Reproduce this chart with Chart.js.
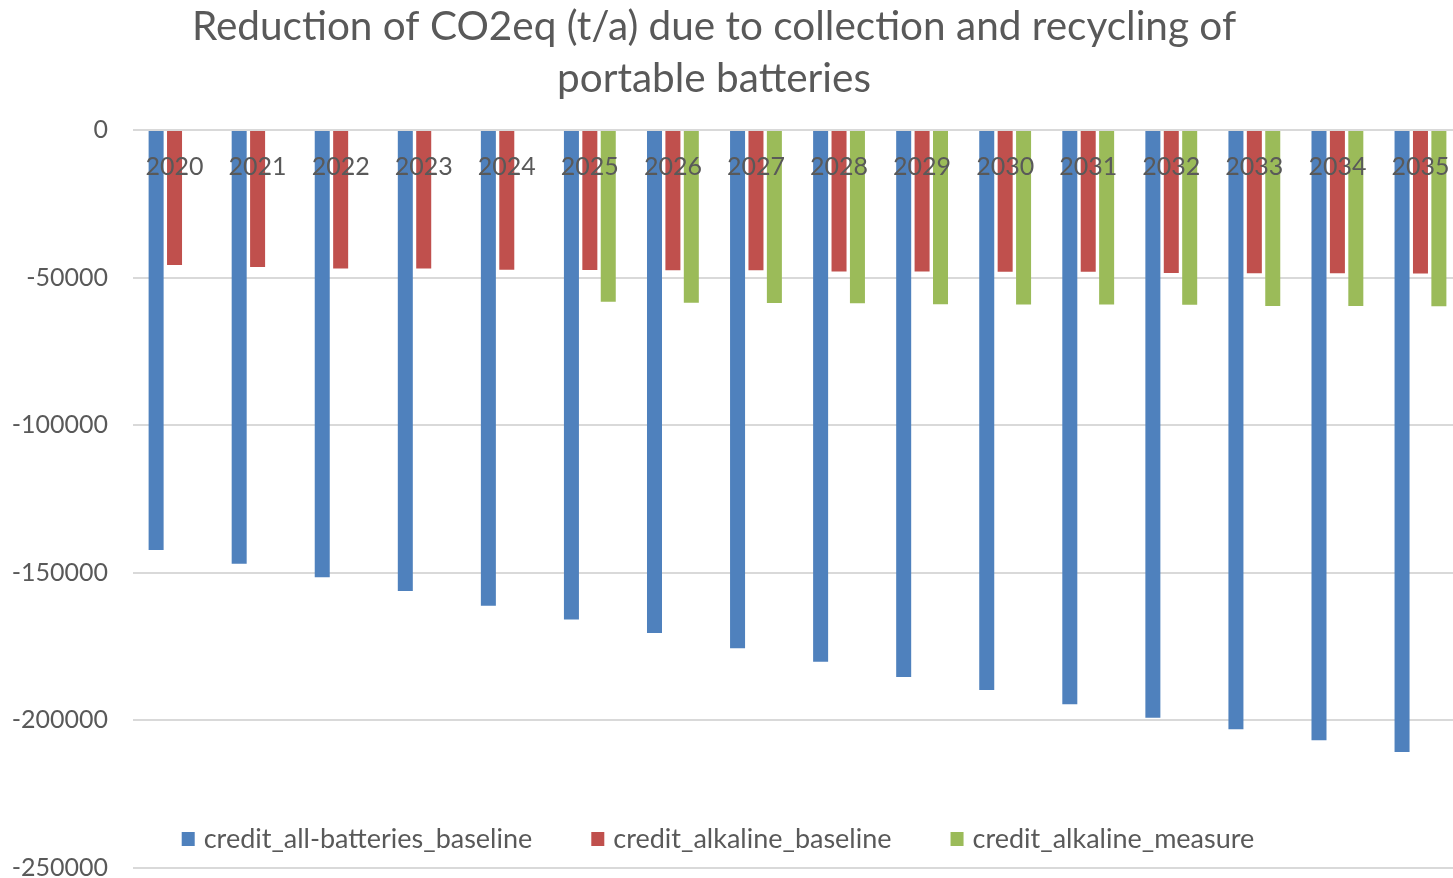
<!DOCTYPE html>
<html>
<head>
<meta charset="utf-8">
<title>Reduction of CO2eq (t/a)</title>
<script src="https://cdn.jsdelivr.net/npm/chart.js@4/dist/chart.umd.min.js"></script>
<style>
  html, body { margin: 0; padding: 0; background: #ffffff; overflow: hidden; }
  #wrap { position: relative; width: 1470px; height: 878px; }
</style>
</head>
<body>
<div id="wrap"><canvas id="co2" width="1470" height="878"></canvas></div>
<script>
// Years on the category axis
const years = ['2020', '2021', '2022', '2023', '2024', '2025', '2026', '2027',
               '2028', '2029', '2030', '2031', '2032', '2033', '2034', '2035'];

// CO2eq credits in t/a (negative = reduction)
const creditAllBatteriesBaseline = [-142300, -146900, -151500, -156200, -161200, -165800, -170400, -175600,
                                    -180100, -185300, -189700, -194500, -199100, -203000, -206700, -210700];
const creditAlkalineBaseline = [-45700, -46400, -46900, -46900, -47300, -47400, -47500, -47500,
                                -47900, -47900, -48000, -48000, -48400, -48500, -48500, -48600];
const creditAlkalineMeasure = [null, null, null, null, null, -58200, -58500, -58600,
                               -58700, -59000, -59100, -59100, -59200, -59600, -59600, -59700];

// Value axis ticks
const yTickValues = [0, -50000, -100000, -150000, -200000, -250000];

const titleLines = ['Reduction of CO2eq (t/a) due to collection and recycling of', 'portable batteries'];
const seriesNames = ['credit_all-batteries_baseline', 'credit_alkaline_baseline', 'credit_alkaline_measure'];
const seriesColors = ['#4f81bd', '#c0504d', '#9bbb59'];

const TEXT = '#595959';
const FONT = 'Lato, "Open Sans", sans-serif';

// Two-line heading centred over the plot
const headline = {
  id: 'headline',
  afterDraw(chart) {
    const ctx = chart.ctx;
    ctx.save();
    ctx.fillStyle = TEXT;
    ctx.font = '40.5px ' + FONT;
    ctx.textAlign = 'center';
    ctx.textBaseline = 'middle';
    titleLines.forEach((line, i) => ctx.fillText(line, 714, 27 + i * 52));
    ctx.restore();
  }
};

// Single-row legend sitting inside the bottom of the plot area
const innerLegend = {
  id: 'innerLegend',
  afterDatasetsDraw(chart) {
    const ctx = chart.ctx;
    const sets = chart.data.datasets;
    ctx.save();
    ctx.font = '27px ' + FONT;
    const box = 13, boxGap = 9, itemGap = 59;
    const widths = sets.map(ds => ctx.measureText(ds.label).width);
    const total = widths.reduce((a, w) => a + box + boxGap + w, 0) + itemGap * (sets.length - 1);
    let x = 718 - total / 2;
    const cy = 839;
    ctx.textBaseline = 'middle';
    ctx.textAlign = 'left';
    sets.forEach((ds, i) => {
      ctx.fillStyle = ds.backgroundColor;
      ctx.fillRect(x, cy - 7, box, box + 1);
      ctx.fillStyle = TEXT;
      ctx.fillText(ds.label, x + box + boxGap, cy);
      x += box + boxGap + widths[i] + itemGap;
    });
    ctx.restore();
  }
};

const seriesValues = [creditAllBatteriesBaseline, creditAlkalineBaseline, creditAlkalineMeasure];

new Chart(document.getElementById('co2'), {
  type: 'bar',
  data: {
    labels: years,
    datasets: seriesValues.map((vals, i) => ({
      label: seriesNames[i],
      data: vals,
      backgroundColor: seriesColors[i],
      borderWidth: 0,
      categoryPercentage: 0.665,
      barPercentage: 0.815
    }))
  },
  options: {
    responsive: false,
    animation: false,
    devicePixelRatio: 1,
    layout: { padding: { top: 130, bottom: 10, left: 0, right: 8 } },
    plugins: {
      legend: { display: false },
      title: { display: false },
      tooltip: { enabled: false }
    },
    scales: {
      x: {
        position: { y: 0 },
        grid: { display: false },
        border: { display: false },
        ticks: {
          z: 1,
          color: TEXT,
          font: { family: FONT, size: 25 },
          padding: 14,
          maxRotation: 0,
          autoSkip: false
        }
      },
      y: {
        min: -250000,
        max: 0,
        afterFit(scale) {
          scale.width = 133;
          // labels may overhang the plot edges; keep the plot height fixed
          scale.paddingTop = 0;
          scale.paddingBottom = 0;
        },
        afterBuildTicks(scale) { scale.ticks = yTickValues.map(v => ({ value: v })); },
        grid: { color: '#d9d9d9', lineWidth: 2, drawTicks: false },
        border: { display: false },
        ticks: {
          color: TEXT,
          font: { family: FONT, size: 25 },
          padding: 25,
          callback: v => String(v)
        }
      }
    }
  },
  plugins: [headline, innerLegend]
});
</script>
</body>
</html>
